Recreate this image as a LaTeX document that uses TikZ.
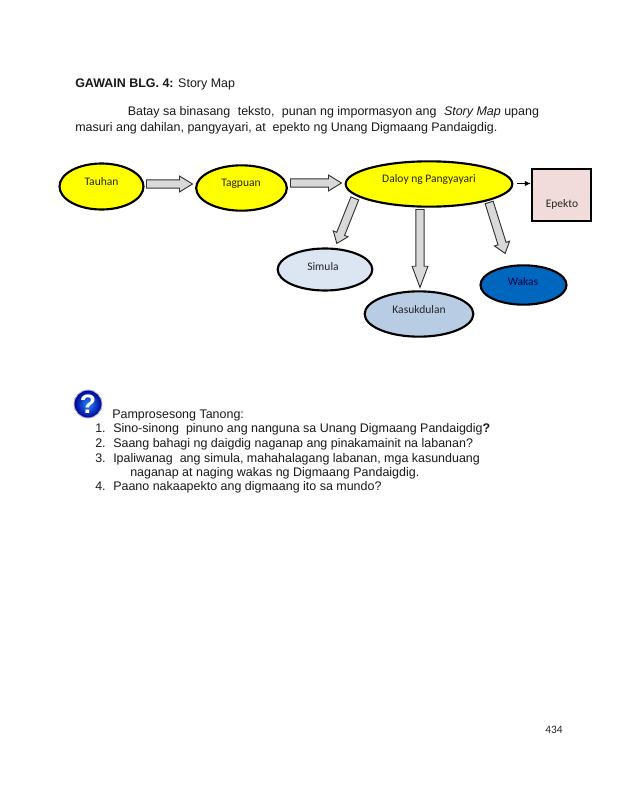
\documentclass[tikz,border=0pt]{standalone}
\usepackage{fontspec}
\setmainfont{Liberation Sans}
\newfontfamily\calfont{Carlito}
\usetikzlibrary{shapes.geometric,shapes.arrows,calc,arrows.meta}
\definecolor{yel}{RGB}{255,255,0}
\definecolor{simfill}{RGB}{220,230,242}
\definecolor{kasfill}{RGB}{184,204,228}
\definecolor{wakfill}{RGB}{0,102,190}
\definecolor{epfill}{RGB}{242,220,219}
\definecolor{arrfill}{RGB}{217,217,217}
\tikzset{
  oval/.style={ellipse,draw=black,line width=1.6pt,inner sep=0pt},
  lab/.style={font=\calfont\fontsize{8.65pt}{10pt}\selectfont,inner sep=0pt,text=black!85},
  body/.style={font=\fontsize{9.35pt}{11pt}\selectfont,anchor=base west,inner sep=0pt,text=black!90},
  blockarrow/.style={single arrow,draw=black!80,fill=arrfill,line width=0.7pt,inner sep=0pt,
    single arrow head extend=2.8pt,single arrow tip angle=63,anchor=tail}
}
\newcommand{\blockarr}[3]{%
  \path let \p1=($(#2)-(#1)$),\n1={veclen(\x1,\y1)},\n2={atan2(\y1,\x1)} in
    node[blockarrow,#3,minimum height=\n1,rotate=\n2] at (#1) {\rule{0pt}{5.6pt}};}
\begin{document}
\begin{tikzpicture}[x=0.75pt,y=-0.75pt]
\useasboundingbox (0,0) rectangle (638,789);
\fill[white] (0,0) rectangle (638,789);
% page text
\node[body] (t1) at (75,87.5) {\textbf{GAWAIN BLG. 4:} Story Map};
\node[body] (t2) at (127.5,115) {Batay sa binasang\hspace{3pt} teksto,\hspace{3pt} punan ng impormasyon ang\hspace{3pt} \textit{Story Map} upang};
\node[body] (t3) at (75,131) {masuri ang dahilan, pangyayari, at\ \ epekto ng Unang Digmaang Pandaigdig.};
% ovals
\node[oval,fill=yel,minimum width=63pt,minimum height=34.5pt] (tauhan) at (101.5,186.5) {};
\node[oval,fill=yel,minimum width=68pt,minimum height=34pt] (tagpuan) at (241.5,188) {};
\node[oval,fill=yel,minimum width=125pt,minimum height=34pt] (daloy) at (429,184) {};
\node[oval,fill=simfill,minimum width=71pt,minimum height=31.5pt] (simula) at (325,269.5) {};
\node[oval,fill=kasfill,minimum width=81.5pt,minimum height=34pt] (kasuk) at (419,314) {};
\node[oval,fill=wakfill,minimum width=64.5pt,minimum height=29.5pt] (wakas) at (523.5,285) {};
\node[draw=black,fill=epfill,line width=1.6pt,minimum width=44.5pt,minimum height=39.5pt,inner sep=0pt] (epekto) at (561.5,195) {};
% labels
\node[lab] at (101.5,181.5) {Tauhan};
\node[lab] at (241,183.5) {Tagpuan};
\node[lab] at (429,179) {Daloy ng Pangyayari};
\node[lab] at (323,266.5) {Simula};
\node[lab] at (419,309.5) {Kasukdulan};
\node[lab,text=black!70!blue] at (523,281.5) {Wakas};
\node[lab] at (562,204.5) {Epekto};
% connector end points
\coordinate (a1s) at (146,184); \coordinate (a1e) at (192,184);
\coordinate (a2s) at (290,183); \coordinate (a2e) at (341,183);
\coordinate (a3s) at (355,198); \coordinate (a3e) at (337,243);
\coordinate (a4s) at (420,209); \coordinate (a4e) at (420,287);
\coordinate (a5s) at (489,202); \coordinate (a5e) at (505,253);
\coordinate (a6s) at (517,183.5);
\blockarr{a1s}{a1e}{}
\blockarr{a2s}{a2e}{}
\blockarr{a3s}{a3e}{single arrow tip angle=75}
\blockarr{a4s}{a4e}{single arrow tip angle=41}
\blockarr{a5s}{a5e}{single arrow tip angle=75}
\draw[-{Latex[length=4.5pt,width=4pt]},line width=0.7pt] (a6s) -- (a6s -| epekto.west);
% question icon
\node[circle,draw=black!20!blue!30,line width=0.7pt,minimum size=21pt,inner sep=0pt,
  shade,inner color=cyan!45!blue!85!white,outer color=blue!55!black] (icon) at (88,404)
  {\fontsize{20pt}{20pt}\selectfont\bfseries\textcolor{white}{?}};
% questions
\node[body] (h) at (112,418) {Pamprosesong Tanong:};
\node[body] (n1) at (95,432) {1.};
\node[body] (q1) at (113,432) {Sino-sinong\ \ pinuno ang nanguna sa Unang Digmaang Pandaigdig\textbf{?}};
\node[body] (n2) at (95,447) {2.};
\node[body] (q2) at (113,447) {Saang bahagi ng daigdig naganap ang pinakamainit na labanan?};
\node[body] (n3) at (95,462) {3.};
\node[body] (q3) at (113,462) {Ipaliwanag\ \ ang simula, mahahalagang labanan, mga kasunduang};
\node[body] (q3b) at (130,476) {naganap at naging wakas ng Digmaang Pandaigdig.};
\node[body] (n4) at (95,490) {4.};
\node[body] (q4) at (113,490) {Paano nakaapekto ang digmaang ito sa mundo?};
\node[lab,font=\calfont\fontsize{8.5pt}{10pt}\selectfont] (pg) at (554,730) {434};
\end{tikzpicture}
\end{document}
